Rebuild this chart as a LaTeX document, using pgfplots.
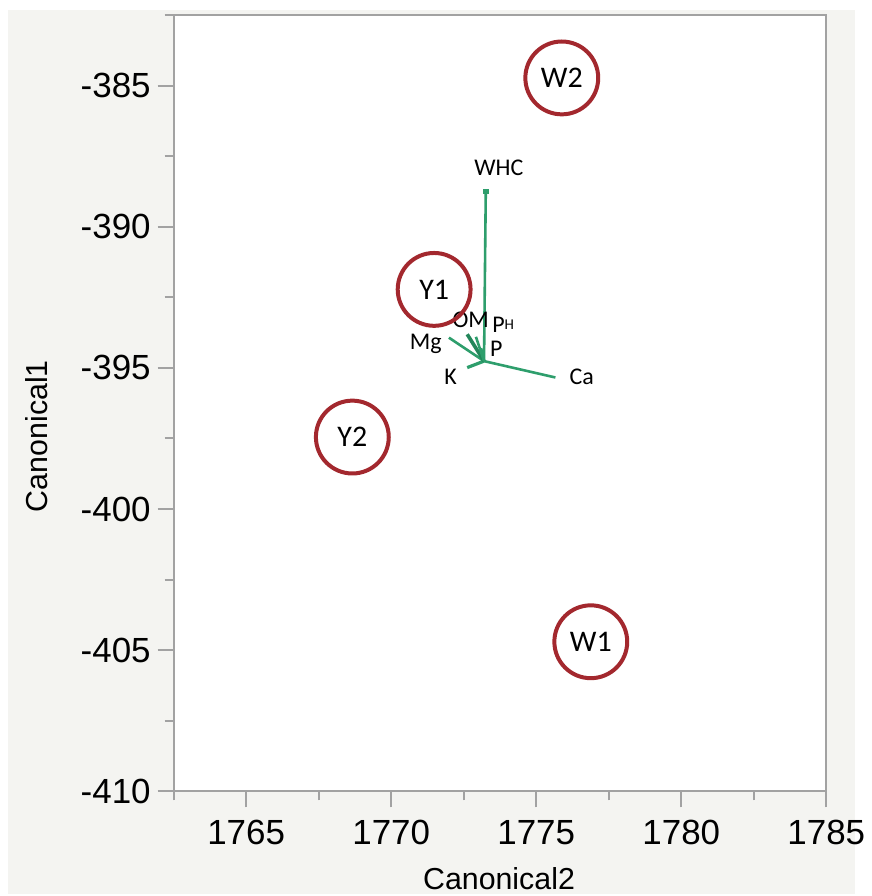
\documentclass[border=0pt]{standalone}
\usepackage{fontspec}
\setmainfont{Liberation Sans}
\newfontfamily\calib{Carlito}
\usepackage{pgfplots}
\pgfplotsset{compat=1.18}

\definecolor{bggray}{HTML}{F4F4F1}
\definecolor{axisgray}{HTML}{A2A2A2}
\definecolor{ringred}{HTML}{A3282E}
\definecolor{raygreen}{HTML}{2E9E6C}
\definecolor{raydark}{HTML}{23865A}

\newcommand\pHlab{P{\fontsize{7.5}{8}\selectfont\raisebox{0.45ex}{H}}}

\begin{document}
\begin{tikzpicture}
  % page background (1px = 0.5pt)
  \fill[white] (-87pt,-51.5pt) rectangle (341.5pt,396.5pt);
  \fill[bggray] (-83pt,-51.5pt) rectangle (341.5pt,391.5pt);
  \begin{axis}[
      scale only axis,
      width=327pt, height=389pt,
      xmin=1762.5, xmax=1785,
      ymin=-410, ymax=-382.5,
      axis background/.style={fill=white},
      axis line style={draw=axisgray, line width=1pt},
      tick style={draw=axisgray, line width=1pt},
      tick align=outside, tick pos=left,
      major tick length=8pt, minor tick length=4.5pt,
      xtick={1765,1770,...,1785},
      ytick={-410,-405,...,-385},
      minor xtick={1762.5,1767.5,...,1782.5},
      minor ytick={-407.5,-402.5,...,-382.5},
      ticklabel style={font=\fontsize{17.5}{20}\selectfont},
      xticklabel style={yshift=-3pt},
      /pgf/number format/assume math mode=true,
      /pgf/number format/1000 sep={},
      xlabel={Canonical2},
      ylabel={Canonical1},
      label style={font=\fontsize{15.2}{18}\selectfont},
      x label style={at={(axis description cs:0.4985,-0.1118)}, anchor=center},
      y label style={at={(axis description cs:-0.2095,0.4576)}, anchor=center},
      clip=false,
    ]
    % loading vectors
    \addplot[raygreen, line width=1.3pt] coordinates {(1773.20,-394.76) (1773.26,-388.75)};
    \addplot[raygreen, line width=1.3pt] coordinates {(1773.20,-394.76) (1775.66,-395.34)};
    \addplot[raygreen, line width=1.3pt] coordinates {(1773.20,-394.76) (1771.99,-393.93)};
    \addplot[raygreen, line width=1.6pt] coordinates {(1773.20,-394.76) (1772.62,-394.99)};
    \addplot[raydark, line width=1.8pt] coordinates {(1773.20,-394.76) (1772.62,-393.81)};
    \addplot[raygreen, line width=1.3pt] coordinates {(1773.20,-394.76) (1772.92,-393.90)};
    \addplot[raygreen, line width=1.3pt] coordinates {(1773.20,-394.76) (1773.10,-394.30)};
    \addplot[only marks, mark=square*, mark size=1.1pt, raygreen] coordinates {(1773.26,-388.75)};

    % vector labels
    \addplot[draw=none, nodes near coords, point meta=explicit symbolic,
      every node near coord/.style={anchor=center, inner sep=0pt,
        font=\calib\fontsize{12}{14}\selectfont}]
      table[meta=lab] {
        x        y        lab
        1773.71  -387.91  WHC
        1771.19  -394.16  Mg
        1772.74  -393.28  OM
        1773.86  -393.48  \pHlab
        1773.62  -394.32  P
        1772.05  -395.33  K
        1776.57  -395.33  Ca
      };

    % group centroids
    \addplot[only marks, mark=o, mark size=18.25pt,
      mark options={draw=ringred, line width=2pt},
      nodes near coords, point meta=explicit symbolic,
      every node near coord/.style={anchor=center, inner sep=0pt,
        font=\calib\fontsize{15}{18}\selectfont}]
      table[meta=lab] {
        x        y        lab
        1775.88  -384.73  W2
        1771.48  -392.22  Y1
        1768.66  -397.45  Y2
        1776.88  -404.70  W1
      };
  \end{axis}
\end{tikzpicture}
\end{document}
